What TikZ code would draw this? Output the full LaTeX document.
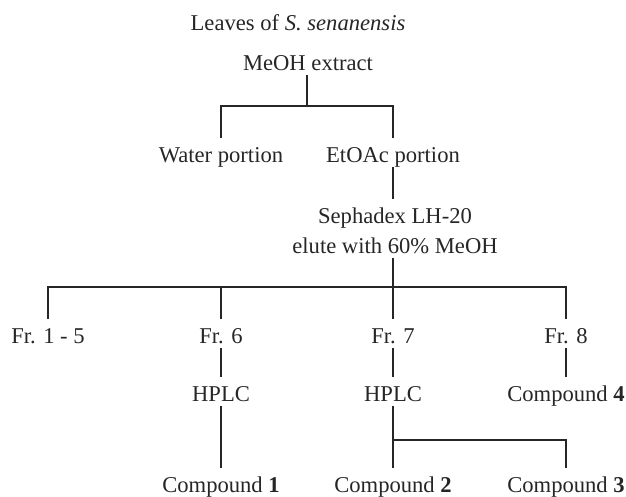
\documentclass[tikz,border=0pt]{standalone}
\usepackage{fontspec}
\setmainfont{Liberation Serif}

\tikzset{
  lbl/.style={font=\fontsize{22.6}{27}\selectfont, text height=22pt, text depth=2pt,
    inner xsep=2pt, inner ysep=3.5pt, text=black!85},
  link/.style={line width=1.6pt, line cap=rect, black!85}
}

\begin{document}
\begin{tikzpicture}[x=1pt,y=-1pt]
  \useasboundingbox (0,0) rectangle (626,497);
  \node[lbl] (leaves) at (298,20.5){Leaves of \textit{S. senanensis}};
  \node[lbl] (meoh) at (308,60.5){MeOH extract};
  \node[lbl] (water) at (221,152.5){Water portion};
  \node[lbl] (etoac) at (393,152.5){EtOAc portion};
  \node[lbl] (seph) at (395,213.5){Sephadex LH-20};
  \node[lbl] (elute) at (395,243.5){elute with 60\% MeOH};
  \coordinate (split1) at (307,106);
  \coordinate (split2) at (393,287);
  % fractions
  \node[lbl] (fr15) at (48,333.5){Fr. 1 - 5};
  \node[lbl] (fr6) at (221,333.5){Fr. 6};
  \node[lbl] (fr7) at (393,333.5){Fr. 7};
  \node[lbl] (fr8) at (566,333.5){Fr. 8};
  \node[lbl] (hplcA) at (221,391.5){HPLC};
  \node[lbl] (hplcB) at (393,391.5){HPLC};
  \node[lbl] (cpd4) at (566,391.5){Compound \textbf{4}};
  \node[lbl] (cpd1) at (221,482.5){Compound \textbf{1}};
  \node[lbl] (cpd2) at (393,482.5){Compound \textbf{2}};
  \node[lbl] (cpd3) at (566,482.5){Compound \textbf{3}};
  \coordinate (split3) at (393,440);
  % connectors
  \draw[link] (meoh.south -| split1) -- (split1);
  \draw[link] (water.north) |- (split1) -| (etoac.north);
  \draw[link] (etoac.south) -- (seph.north -| etoac.south);
  \draw[link] (elute.south -| split2) -- (split2);
  \draw[link] (fr15.north) |- (split2) -| (fr8.north);
  \draw[link] (fr6.north) -- (fr6.north |- split2);
  \draw[link] (fr7.north) -- (split2);
  \draw[link] (fr6.south) -- (hplcA.north);
  \draw[link] (fr7.south) -- (hplcB.north);
  \draw[link] (fr8.south) -- (cpd4.north);
  \draw[link] (hplcA.south) -- (cpd1.north);
  \draw[link] (hplcB.south) -- (cpd2.north);
  \draw[link] (split3) -| (cpd3.north);
\end{tikzpicture}
\end{document}
